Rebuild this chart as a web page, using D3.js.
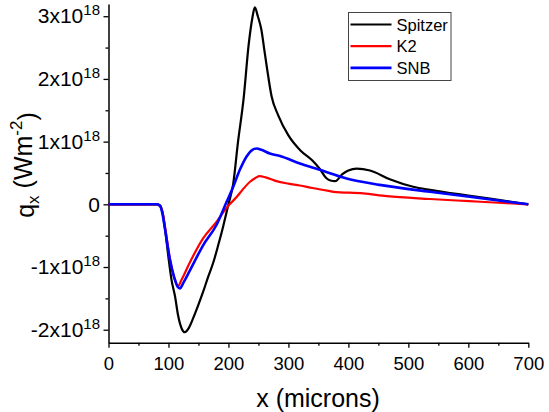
<!DOCTYPE html>
<head>
<meta charset="utf-8">
<script src="https://d3js.org/d3.v7.min.js"></script>
<style>
  body { margin: 0; background: #fff; }
  text { font-family: "Liberation Sans", Arial, sans-serif; }
</style>
</head>
<body>
<div id="my_dataviz"></div>
<script>
    // values in units of 1e18 W m^-2, x in microns
    var spitzerX = [0, 50, 80, 85, 90, 95, 100, 105, 111, 116, 122, 127, 134, 141, 150, 158, 166, 175, 183, 191, 200, 208, 216, 225, 234, 240, 244, 249, 255, 260, 264, 272, 283, 300, 320, 340, 352, 363, 370, 378, 390, 400, 414, 436, 469, 508, 536, 570, 600, 650, 700];
    var spitzerY = [0, 0, 0, -0.02, -0.13, -0.45, -0.85, -1.2, -1.47, -1.77, -1.98, -2.04, -1.97, -1.82, -1.6, -1.39, -1.16, -0.92, -0.65, -0.36, 0.0, 0.33, 1.0, 1.66, 2.57, 2.98, 3.14, 3.0, 2.78, 2.45, 2.19, 1.72, 1.42, 1.1, 0.86, 0.7, 0.57, 0.42, 0.38, 0.37, 0.48, 0.54, 0.57, 0.54, 0.4, 0.28, 0.23, 0.18, 0.14, 0.07, 0.0];

    var k2X = [0, 50, 80, 86, 90, 95, 102, 110, 116, 122, 136, 158, 180, 195, 202, 214, 225, 236, 245, 252, 262, 280, 300, 319, 340, 369, 375, 425, 464, 536, 602, 650, 700];
    var k2Y = [0, 0, 0, -0.02, -0.12, -0.4, -0.85, -1.18, -1.3, -1.2, -0.92, -0.54, -0.28, -0.08, 0.0, 0.12, 0.25, 0.36, 0.42, 0.45, 0.43, 0.37, 0.33, 0.3, 0.26, 0.21, 0.2, 0.175, 0.13, 0.085, 0.05, 0.025, 0.0];

    var snbX = [0, 50, 80, 86, 90, 94, 102, 110, 115, 119, 125, 136, 158, 180, 197, 208, 219, 230, 240, 247, 255, 269, 286, 319, 352, 397, 452, 536, 602, 650, 700];
    var snbY = [0, 0, 0, -0.02, -0.15, -0.38, -0.86, -1.18, -1.31, -1.34, -1.25, -1.05, -0.65, -0.33, 0.04, 0.28, 0.55, 0.76, 0.87, 0.89, 0.87, 0.81, 0.77, 0.65, 0.55, 0.41, 0.31, 0.2, 0.12, 0.06, 0.0];

    var seriesNames = ["Spitzer", "K2", "SNB"];
    var seriesColors = ["#000000", "#ff0000", "#0000ff"];
    var xTicks = [0, 100, 200, 300, 400, 500, 600, 700];
    var yTicks = [-2, -1, 0, 1, 2, 3];

    var W = 549, H = 412;
    var margin = {top: 4, right: 20.7, bottom: 69.3, left: 108.5},
        width = W - margin.left - margin.right,
        height = H - margin.top - margin.bottom;

    var svg = d3.select("#my_dataviz")
      .append("svg")
        .attr("width", W)
        .attr("height", H)
      .append("g")
        .attr("transform", "translate(" + margin.left + "," + margin.top + ")");

    var x = d3.scaleLinear().domain([0, 700]).range([0, width]);
    var y = d3.scaleLinear().domain([-2.207, 3.195]).range([height, 0]);

    // minor ticks
    svg.append("g")
      .attr("transform", "translate(0," + height + ")")
      .call(d3.axisBottom(x).tickValues(d3.range(50, 700, 100)).tickSize(3).tickFormat(""))
      .call(g => g.select(".domain").remove())
      .call(g => g.selectAll("line").attr("stroke-width", 1.3));
    svg.append("g")
      .call(d3.axisLeft(y).tickValues([-1.5, -0.5, 0.5, 1.5, 2.5]).tickSize(3).tickFormat(""))
      .call(g => g.select(".domain").remove())
      .call(g => g.selectAll("line").attr("stroke-width", 1.3));

    // X axis
    svg.append("g")
      .attr("transform", "translate(0," + height + ")")
      .call(d3.axisBottom(x).tickValues(xTicks).tickSize(5).tickSizeOuter(0).tickPadding(9))
      .call(g => g.select(".domain").attr("stroke-width", 1.5))
      .call(g => g.selectAll("line").attr("stroke-width", 1.3))
      .call(g => g.selectAll("text").attr("font-size", 18.5).attr("fill", "#000")
            .attr("font-family", "Liberation Sans, Arial, sans-serif"));

    // Y axis
    svg.append("g")
      .call(d3.axisLeft(y).tickValues(yTicks).tickSize(5).tickSizeOuter(0).tickPadding(3.5))
      .call(g => g.select(".domain").attr("stroke-width", 1.5))
      .call(g => g.selectAll("line").attr("stroke-width", 1.3))
      .call(g => g.selectAll("text").each(function(d) {
          var t = d3.select(this).text("")
            .attr("font-size", 21).attr("fill", "#000")
            .attr("font-family", "Liberation Sans, Arial, sans-serif");
          if (d === 0) { t.text("0"); return; }
          t.append("tspan").text(d + "x10");
          t.append("tspan").attr("font-size", 15).attr("dy", "-0.55em").text("18");
      }));

    // lines
    var line = d3.line()
      .x(function(d) { return x(d[0]); })
      .y(function(d) { return y(d[1]); })
      .curve(d3.curveMonotoneX);

    var allX = [spitzerX, k2X, snbX], allY = [spitzerY, k2Y, snbY];
    [0, 1, 2].forEach(function(i) {
        var pts = allX[i].map(function(v, j) { return [v, allY[i][j]]; });
        svg.append("path")
          .datum(pts)
          .attr("fill", "none")
          .attr("stroke", seriesColors[i])
          .attr("stroke-width", i == 2 ? 2.6 : 2.2)
          .attr("stroke-linejoin", "round")
          .attr("d", line);
    });

    // legend
    var lg = svg.append("g").attr("transform", "translate(" + (348.5 - margin.left) + "," + (12.5 - margin.top) + ")");
    lg.append("rect")
      .attr("width", 102.5).attr("height", 68)
      .attr("fill", "#fff").attr("stroke", "#444").attr("stroke-width", 1);
    seriesNames.forEach(function(n, i) {
        var yy = 12 + i * 21.7;
        lg.append("line").attr("x1", 2).attr("x2", 43).attr("y1", yy).attr("y2", yy)
          .attr("stroke", seriesColors[i]).attr("stroke-width", i == 2 ? 2.6 : 2.2);
        lg.append("text").attr("x", 48).attr("y", yy + 6)
          .attr("font-size", 16.5).text(n);
    });

    // axis titles
    var root = d3.select("#my_dataviz svg");
    root.append("text")
      .attr("x", 318).attr("y", 407)
      .attr("text-anchor", "middle")
      .attr("font-size", 25)
      .text("x (microns)");

    var yl = root.append("text")
      .attr("transform", "translate(34,165) rotate(-90)")
      .attr("text-anchor", "middle")
      .attr("font-size", 25);
    yl.append("tspan").text("q");
    yl.append("tspan").attr("font-size", 17).attr("dy", "0.3em").text("x");
    yl.append("tspan").attr("dy", "-0.3em").text(" (Wm");
    yl.append("tspan").attr("font-size", 17).attr("dy", "-0.55em").text("-2");
    yl.append("tspan").attr("dy", "0.55em").text(")");
</script>
</body>
